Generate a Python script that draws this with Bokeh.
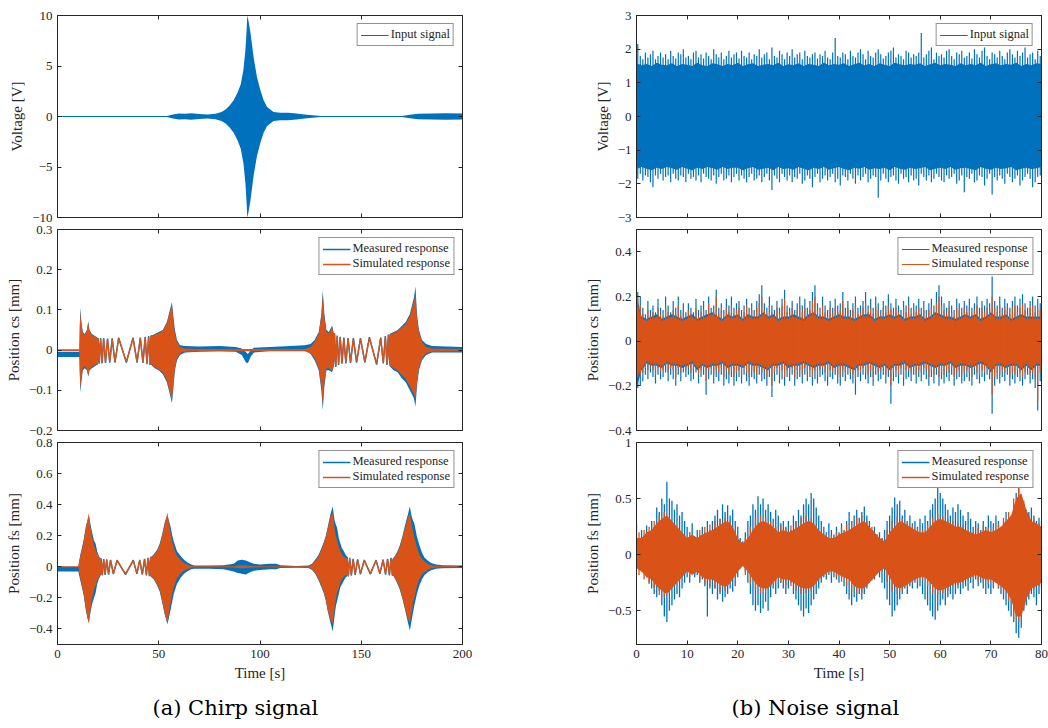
import numpy as np
from bokeh.plotting import figure
from bokeh.layouts import row, column
from bokeh.models import LinearAxis, FixedTicker, Range1d, Legend, LegendItem, Title
from bokeh.embed import file_html
from bokeh.resources import INLINE

BLUE = "#0072BD"
ORANGE = "#D95319"
INK = "#262626"
SERIF = "Liberation Serif"
CAPTION_FONT = "DejaVu Serif"

# ---------------------------------------------------------------- chirp test
# input voltage envelope (symmetric about zero)
chirp_in_t = [0, 54, 57, 60, 63, 66, 70, 74, 78, 81,
              83, 85, 87, 89, 90.5, 91.8, 92.8, 93.4, 93.7, 94.2,
              95.3, 96.9, 98.5, 100.2, 101.8, 103.5, 106.7, 110, 114, 118,
              122, 126, 130, 170, 174, 178, 185, 192, 200]
chirp_in_amp = [0.04, 0.06, 0.2, 0.3, 0.28, 0.33, 0.25, 0.2, 0.28, 0.45,
                0.7, 1.1, 1.6, 2.4, 3.2, 4.6, 6.6, 8.6, 10.0, 9.6,
                8.3, 5.8, 3.9, 2.6, 1.6, 0.93, 0.45, 0.38, 0.36, 0.3,
                0.2, 0.12, 0.05, 0.05, 0.18, 0.28, 0.3, 0.32, 0.3]

# position cs: envelope of the dense parts
cs_t = [0, 10.8, 11.0, 11.3, 11.8, 12.5, 13.5, 14.5, 15.2, 15.8,
        17.0, 18.5, 20.0, 21.5, 45.0, 46.0, 48.0, 50.0, 52.0, 54.0,
        55.5, 56.5, 57.3, 58.0, 59.0, 60.5, 63.0, 70.0, 80.0, 88.0,
        91.0, 93.0, 94.0, 95.5, 97.0, 105.0, 115.0, 122.0, 125.0, 127.0,
        129.0, 130.3, 131.0, 131.8, 132.8, 134.0, 135.6, 136.5, 137.5, 163.0,
        164.0, 166.0, 168.0, 170.0, 172.0, 174.0, 176.0, 176.8, 177.5, 178.5,
        180.0, 182.0, 185.0, 200.0]
cs_meas_hi = [-0.004, -0.004, 0.06, 0.106, 0.07, 0.045, 0.04, 0.05, 0.072, 0.05,
              0.04, 0.035, 0.03, 0.0, 0.0, 0.035, 0.04, 0.045, 0.05, 0.07,
              0.1, 0.119, 0.08, 0.05, 0.025, 0.012, 0.01, 0.009, 0.01, 0.008,
              0.004, -0.005, -0.01, 0.0, 0.006, 0.008, 0.01, 0.012, 0.015, 0.025,
              0.045, 0.09, 0.148, 0.09, 0.05, 0.045, 0.061, 0.04, 0.0, 0.0,
              0.04, 0.045, 0.05, 0.06, 0.07, 0.09, 0.13, 0.158, 0.09, 0.05,
              0.025, 0.015, 0.01, 0.008]
cs_meas_lo = [-0.017, -0.017, -0.06, -0.106, -0.08, -0.05, -0.045, -0.05, -0.066, -0.05,
              -0.045, -0.04, -0.035, 0.0, 0.0, -0.035, -0.045, -0.05, -0.06, -0.08,
              -0.11, -0.132, -0.09, -0.05, -0.025, -0.012, -0.006, -0.004, -0.003, -0.004,
              -0.012, -0.03, -0.033, -0.015, -0.006, -0.002, 0.0, 0.0, -0.01, -0.025,
              -0.05, -0.1, -0.149, -0.09, -0.05, -0.05, -0.055, -0.04, 0.0, 0.0,
              -0.04, -0.05, -0.055, -0.07, -0.08, -0.1, -0.12, -0.14, -0.09, -0.05,
              -0.025, -0.012, -0.006, -0.006]
cs_sim_hi = [0.002, 0.002, 0.05, 0.095, 0.065, 0.042, 0.038, 0.048, 0.068, 0.048,
             0.038, 0.033, 0.028, 0.0, 0.0, 0.033, 0.038, 0.042, 0.048, 0.066,
             0.095, 0.115, 0.07, 0.04, 0.02, 0.008, 0.004, 0.003, 0.003, 0.003,
             0.003, 0.003, 0.003, 0.003, 0.003, 0.003, 0.003, 0.003, 0.008, 0.02,
             0.04, 0.085, 0.136, 0.08, 0.045, 0.042, 0.058, 0.038, 0.0, 0.0,
             0.038, 0.042, 0.048, 0.056, 0.065, 0.085, 0.12, 0.14, 0.08, 0.045,
             0.02, 0.008, 0.004, 0.003]
cs_sim_lo = [-0.002, -0.002, -0.05, -0.095, -0.07, -0.045, -0.04, -0.048, -0.063, -0.048,
             -0.042, -0.038, -0.033, 0.0, 0.0, -0.033, -0.042, -0.048, -0.056, -0.075,
             -0.105, -0.125, -0.08, -0.045, -0.02, -0.008, -0.004, -0.003, -0.003, -0.003,
             -0.003, -0.003, -0.003, -0.003, -0.003, -0.003, -0.003, -0.003, -0.008, -0.02,
             -0.045, -0.09, -0.134, -0.08, -0.045, -0.045, -0.052, -0.038, 0.0, 0.0,
             -0.038, -0.045, -0.05, -0.062, -0.072, -0.09, -0.11, -0.121, -0.08, -0.045,
             -0.02, -0.008, -0.004, -0.003]

# position cs: resolved low-frequency swings (successive extremes)
cs_wave1_t = [20.0, 20.6, 21.3, 22.0, 22.8, 23.7, 24.7, 25.8, 27.0, 28.4,
              30.2, 34.0, 37.3, 39.3, 40.9, 42.2, 43.3, 44.2, 45.0, 45.7, 46.3]
cs_wave1_meas = [0.03, -0.034, 0.03, -0.033, 0.03, -0.032, 0.029, -0.031, 0.029, -0.031,
                 0.031, -0.031, 0.031, -0.031, 0.031, -0.032, 0.033, -0.035, 0.035, -0.037, 0.037]
cs_wave1_sim = [0.028, -0.032, 0.028, -0.031, 0.028, -0.03, 0.027, -0.029, 0.027, -0.029,
                0.029, -0.029, 0.029, -0.029, 0.029, -0.03, 0.031, -0.033, 0.033, -0.035, 0.035]
cs_wave2_t = [136.8, 137.4, 138.1, 138.8, 139.6, 140.5, 141.4, 142.4, 143.5, 144.7,
              146.1, 147.7, 149.6, 151.8, 154.0, 157.6, 159.6, 160.9, 161.9, 162.7, 163.4]
cs_wave2_meas = [0.042, -0.042, 0.036, -0.037, 0.033, -0.034, 0.031, -0.033, 0.03, -0.032,
                 0.03, -0.031, 0.03, -0.031, 0.032, -0.036, 0.031, -0.033, 0.035, -0.037, 0.039]
cs_wave2_sim = [0.04, -0.04, 0.034, -0.035, 0.031, -0.032, 0.029, -0.031, 0.028, -0.03,
                0.028, -0.029, 0.028, -0.029, 0.03, -0.034, 0.029, -0.031, 0.033, -0.035, 0.037]

# position fs: envelope of the dense parts
fs_t = [0, 10.3, 10.6, 11.3, 12.2, 13.0, 14.0, 14.8, 15.5, 16.2,
        17.1, 18.0, 18.8, 19.6, 20.4, 21.5, 22.5, 45.0, 45.9, 47.5,
        49.2, 50.5, 51.7, 53.0, 54.3, 55.0, 55.8, 56.7, 57.5, 59.0,
        60.8, 62.5, 64.0, 66.0, 67.5, 75.0, 82.0, 87.0, 89.0, 91.0,
        93.0, 95.0, 97.0, 100.0, 105.0, 108.0, 110.0, 118.0, 124.0, 125.7,
        127.5, 129.0, 130.3, 131.5, 132.5, 133.5, 134.8, 135.9, 136.8, 137.5,
        138.1, 139.0, 139.7, 140.5, 141.4, 142.2, 143.0, 144.0, 165.0, 165.4,
        166.6, 167.9, 169.1, 170.4, 171.7, 172.9, 174.0, 174.8, 175.5, 176.2,
        177.4, 178.7, 180.0, 181.2, 182.8, 184.5, 187.0, 190.0, 200.0]
fs_meas_hi = [0.0, 0.0, 0.03, 0.08, 0.13, 0.18, 0.26, 0.3, 0.33, 0.28,
              0.22, 0.17, 0.15, 0.1, 0.07, 0.05, 0.0, 0.0, 0.06, 0.08,
              0.11, 0.15, 0.21, 0.29, 0.33, 0.3, 0.26, 0.2, 0.16, 0.1,
              0.07, 0.045, 0.03, 0.015, 0.008, 0.008, 0.01, 0.02, 0.04, 0.045,
              0.04, 0.03, 0.02, 0.015, 0.02, 0.02, 0.01, 0.006, 0.008, 0.02,
              0.05, 0.08, 0.12, 0.16, 0.2, 0.26, 0.34, 0.388, 0.3, 0.27,
              0.25, 0.18, 0.15, 0.12, 0.1, 0.08, 0.065, 0.0, 0.0, 0.05,
              0.07, 0.1, 0.14, 0.2, 0.27, 0.33, 0.388, 0.33, 0.3, 0.28,
              0.2, 0.14, 0.09, 0.06, 0.04, 0.025, 0.015, 0.01, 0.008]
fs_meas_lo = [-0.03, -0.03, -0.05, -0.09, -0.14, -0.19, -0.28, -0.33, -0.36, -0.3,
              -0.24, -0.2, -0.17, -0.11, -0.08, -0.05, 0.0, 0.0, -0.06, -0.08,
              -0.12, -0.16, -0.23, -0.31, -0.37, -0.33, -0.28, -0.22, -0.17, -0.11,
              -0.07, -0.045, -0.03, -0.015, -0.012, -0.012, -0.015, -0.03, -0.04, -0.045,
              -0.05, -0.035, -0.025, -0.02, -0.015, -0.015, -0.008, -0.006, -0.008, -0.02,
              -0.05, -0.09, -0.13, -0.17, -0.22, -0.29, -0.36, -0.416, -0.32, -0.25,
              -0.22, -0.17, -0.13, -0.11, -0.09, -0.07, -0.06, 0.0, 0.0, -0.05,
              -0.075, -0.11, -0.15, -0.21, -0.28, -0.35, -0.41, -0.35, -0.3, -0.25,
              -0.18, -0.12, -0.08, -0.055, -0.035, -0.022, -0.012, -0.01, -0.008]
fs_sim_hi = [0.003, 0.003, 0.025, 0.07, 0.12, 0.17, 0.25, 0.3, 0.347, 0.26,
             0.19, 0.14, 0.11, 0.085, 0.065, 0.045, 0.0, 0.0, 0.055, 0.075,
             0.1, 0.14, 0.2, 0.28, 0.35, 0.28, 0.22, 0.16, 0.12, 0.07,
             0.045, 0.025, 0.015, 0.006, 0.003, 0.003, 0.003, 0.004, 0.008, 0.01,
             0.008, 0.006, 0.004, 0.003, 0.003, 0.003, 0.003, 0.003, 0.004, 0.015,
             0.04, 0.07, 0.11, 0.15, 0.19, 0.25, 0.32, 0.35, 0.25, 0.2,
             0.17, 0.13, 0.1, 0.08, 0.065, 0.055, 0.05, 0.0, 0.0, 0.045,
             0.065, 0.09, 0.13, 0.19, 0.25, 0.31, 0.35, 0.28, 0.23, 0.19,
             0.13, 0.08, 0.05, 0.035, 0.02, 0.01, 0.005, 0.003, 0.003]
fs_sim_lo = [-0.003, -0.003, -0.03, -0.08, -0.13, -0.18, -0.27, -0.33, -0.367, -0.28,
             -0.2, -0.15, -0.12, -0.09, -0.07, -0.045, 0.0, 0.0, -0.055, -0.075,
             -0.11, -0.15, -0.22, -0.3, -0.367, -0.3, -0.24, -0.17, -0.13, -0.075,
             -0.045, -0.025, -0.015, -0.006, -0.003, -0.003, -0.003, -0.004, -0.008, -0.01,
             -0.008, -0.006, -0.004, -0.003, -0.003, -0.003, -0.003, -0.003, -0.004, -0.015,
             -0.045, -0.08, -0.12, -0.16, -0.21, -0.28, -0.34, -0.367, -0.27, -0.2,
             -0.17, -0.13, -0.1, -0.08, -0.065, -0.055, -0.05, 0.0, 0.0, -0.045,
             -0.07, -0.1, -0.14, -0.2, -0.27, -0.33, -0.362, -0.3, -0.24, -0.2,
             -0.13, -0.08, -0.05, -0.035, -0.02, -0.01, -0.005, -0.003, -0.003]

# position fs: resolved low-frequency swings (successive extremes)
fs_wave1_t = [21.5, 22.1, 22.8, 23.5, 24.3, 25.2, 26.2, 27.6, 29.4, 33.6,
              37.4, 39.2, 40.6, 41.9, 43.0, 43.9, 44.7, 45.4, 46.0]
fs_wave1_meas = [0.055, -0.055, 0.05, -0.052, 0.048, -0.05, 0.045, -0.047, 0.043, -0.05,
                 0.043, -0.045, 0.045, -0.05, 0.052, -0.055, 0.058, -0.06, 0.065]
fs_wave1_sim = [0.05, -0.05, 0.046, -0.048, 0.044, -0.046, 0.041, -0.043, 0.04, -0.046,
                0.04, -0.041, 0.041, -0.046, 0.048, -0.05, 0.053, -0.055, 0.06]
fs_wave2_t = [143.0, 143.6, 144.3, 145.1, 146.0, 147.0, 148.2, 149.6, 151.5, 154.5,
              157.3, 159.2, 160.8, 162.0, 163.0, 163.9, 164.7, 165.4]
fs_wave2_meas = [0.065, -0.062, 0.058, -0.057, 0.052, -0.052, 0.048, -0.048, 0.044, -0.048,
                 0.043, -0.045, 0.047, -0.05, 0.052, -0.055, 0.058, -0.058]
fs_wave2_sim = [0.06, -0.058, 0.054, -0.053, 0.048, -0.048, 0.044, -0.044, 0.04, -0.044,
                0.04, -0.041, 0.043, -0.046, 0.048, -0.05, 0.053, -0.054]

# ---------------------------------------------------------------- noise test
noise_t = np.arange(0, 81, 1.0)           # 1 s envelope grid
noise_t_mid = np.arange(0.5, 80, 1.0)     # 1 s grid, half-step shifted
noise_t_fine = np.arange(0, 80.5, 0.5)    # 0.5 s grid
noise_t_peak = np.arange(0.25, 80, 0.5)   # 0.5 s grid of local peaks

# input voltage: solid core and local peaks
noise_in_hi = [1.58, 1.52, 1.56, 1.5, 1.6, 1.54, 1.52, 1.58, 1.5, 1.56,
               1.54, 1.5, 1.6, 1.52, 1.5, 1.58, 1.55, 1.5, 1.56, 1.52,
               1.6, 1.5, 1.55, 1.58, 1.5, 1.54, 1.56, 1.52, 1.6, 1.5,
               1.55, 1.52, 1.58, 1.5, 1.56, 1.54, 1.5, 1.6, 1.52, 1.56,
               1.54, 1.58, 1.5, 1.55, 1.6, 1.52, 1.56, 1.5, 1.58, 1.54,
               1.5, 1.6, 1.55, 1.52, 1.56, 1.54, 1.58, 1.5, 1.55, 1.6,
               1.52, 1.56, 1.54, 1.5, 1.58, 1.52, 1.56, 1.52, 1.6, 1.5,
               1.55, 1.58, 1.52, 1.56, 1.54, 1.6, 1.5, 1.56, 1.52, 1.58,
               1.56]
noise_in_lo = [-1.56, -1.5, -1.55, -1.6, -1.52, -1.56, -1.5, -1.54, -1.58, -1.5,
               -1.55, -1.6, -1.52, -1.56, -1.5, -1.54, -1.58, -1.5, -1.56, -1.52,
               -1.52, -1.6, -1.54, -1.5, -1.58, -1.55, -1.52, -1.6, -1.5, -1.56,
               -1.54, -1.58, -1.5, -1.55, -1.6, -1.52, -1.56, -1.5, -1.58, -1.54,
               -1.5, -1.56, -1.6, -1.52, -1.55, -1.5, -1.58, -1.54, -1.56, -1.52,
               -1.6, -1.5, -1.55, -1.58, -1.52, -1.56, -1.54, -1.5, -1.6, -1.55,
               -1.52, -1.56, -1.5, -1.58, -1.54, -1.52, -1.56, -1.6, -1.5, -1.55,
               -1.58, -1.52, -1.56, -1.54, -1.5, -1.6, -1.55, -1.52, -1.56, -1.54,
               -1.5]
noise_in_peak_up = [2.15, 1.8, 1.7, 1.9, 1.75, 1.85, 1.95, 1.7, 1.8, 1.9,
                    1.75, 1.85, 1.7, 1.95, 1.8, 1.72, 1.9, 1.85, 2.0, 1.75,
                    1.8, 1.7, 1.9, 1.95, 1.75, 1.85, 1.72, 1.9, 1.8, 1.7,
                    2.0, 1.85, 1.75, 1.9, 1.7, 1.8, 1.95, 1.75, 1.85, 1.9,
                    1.72, 1.95, 1.8, 1.75, 1.9, 1.7, 1.85, 1.8, 2.0, 1.75,
                    1.85, 1.9, 1.7, 2.05, 1.8, 1.75, 1.95, 1.85, 1.7, 1.9,
                    1.8, 2.0, 1.75, 1.85, 1.9, 1.7, 1.95, 1.8, 1.75, 1.85,
                    1.9, 1.72, 1.85, 1.8, 1.95, 1.75, 1.7, 1.9, 2.33, 1.8,
                    1.75, 1.9, 1.85, 1.7, 1.95, 1.8, 1.75, 1.9, 2.0, 1.85,
                    1.7, 1.95, 1.8, 1.75, 1.9, 2.0, 1.85, 1.72, 1.8, 1.9,
                    1.95, 2.05, 1.75, 1.85, 1.8, 1.7, 1.95, 1.9, 1.75, 1.85,
                    1.8, 1.9, 2.48, 1.75, 1.85, 1.95, 2.05, 1.7, 1.9, 1.8,
                    1.85, 1.75, 1.95, 2.0, 1.8, 1.7, 1.9, 1.85, 1.95, 1.75,
                    1.8, 1.9, 1.72, 2.0, 1.85, 1.75, 1.95, 2.05, 1.8, 1.7,
                    1.9, 1.85, 1.75, 1.95, 1.8, 1.7, 1.9, 2.0, 1.85, 1.75,
                    1.95, 1.8, 1.9, 2.05, 1.75, 1.85, 1.9, 1.7, 1.95, 1.8]
noise_in_peak_dn = [-1.85, -1.7, -1.9, -1.75, -1.8, -1.95, -2.1, -1.75, -1.85, -1.7,
                    -1.9, -1.8, -1.75, -1.95, -1.7, -1.85, -1.9, -1.75, -1.8, -1.95,
                    -1.7, -1.85, -1.8, -1.9, -1.75, -1.95, -1.7, -1.8, -1.85, -1.9,
                    -1.75, -2.0, -1.8, -1.7, -1.9, -1.85, -1.75, -1.95, -1.8, -1.7,
                    -1.9, -1.75, -1.85, -1.95, -1.8, -1.7, -1.9, -1.85, -1.75, -1.95,
                    -1.8, -1.7, -1.9, -2.18, -1.75, -1.85, -1.95, -1.7, -1.8, -1.9,
                    -1.75, -1.95, -1.8, -1.85, -1.7, -2.0, -1.9, -1.75, -1.85, -2.1,
                    -1.8, -1.7, -1.95, -1.85, -1.75, -1.9, -1.8, -1.7, -1.95, -1.85,
                    -2.05, -1.75, -1.8, -1.9, -1.7, -1.85, -2.0, -1.75, -1.9, -1.8,
                    -1.7, -1.95, -1.85, -1.75, -1.8, -2.41, -1.9, -1.7, -1.85, -1.95,
                    -1.8, -1.75, -1.9, -2.0, -1.7, -1.85, -1.8, -1.95, -1.75, -1.9,
                    -1.85, -2.05, -1.7, -1.8, -1.9, -1.75, -1.95, -1.85, -1.7, -1.8,
                    -1.9, -1.95, -1.75, -1.85, -1.8, -1.7, -2.0, -1.9, -1.75, -2.25,
                    -1.8, -1.85, -1.7, -1.95, -1.9, -1.75, -1.8, -2.05, -1.85, -1.7,
                    -2.32, -1.8, -1.9, -1.75, -1.85, -2.0, -1.7, -1.8, -1.95, -1.85,
                    -1.75, -2.05, -1.9, -1.8, -1.7, -1.85, -2.1, -1.95, -1.8, -1.75]

# position cs: solid core and local peaks of both responses
nz_cs_meas_hi = [0.2, 0.11, 0.1, 0.11, 0.12, 0.1, 0.11, 0.12, 0.11, 0.1,
                 0.11, 0.12, 0.1, 0.11, 0.12, 0.13, 0.11, 0.1, 0.12, 0.11,
                 0.12, 0.1, 0.12, 0.11, 0.11, 0.13, 0.11, 0.12, 0.1, 0.11,
                 0.11, 0.12, 0.11, 0.1, 0.12, 0.13, 0.11, 0.11, 0.1, 0.11,
                 0.12, 0.11, 0.11, 0.1, 0.11, 0.12, 0.12, 0.1, 0.11, 0.11,
                 0.12, 0.11, 0.12, 0.1, 0.11, 0.11, 0.12, 0.1, 0.11, 0.13,
                 0.12, 0.11, 0.11, 0.1, 0.11, 0.12, 0.11, 0.12, 0.1, 0.11,
                 0.13, 0.11, 0.11, 0.12, 0.1, 0.11, 0.12, 0.11, 0.11, 0.11,
                 0.11]
nz_cs_meas_lo = [-0.21, -0.13, -0.1, -0.11, -0.11, -0.12, -0.1, -0.11, -0.11, -0.12,
                 -0.11, -0.1, -0.13, -0.11, -0.12, -0.11, -0.11, -0.1, -0.12, -0.11,
                 -0.11, -0.12, -0.1, -0.11, -0.11, -0.12, -0.13, -0.11, -0.11, -0.1,
                 -0.12, -0.11, -0.11, -0.1, -0.11, -0.12, -0.11, -0.11, -0.1, -0.12,
                 -0.11, -0.11, -0.12, -0.13, -0.11, -0.11, -0.1, -0.11, -0.12, -0.11,
                 -0.13, -0.11, -0.11, -0.1, -0.12, -0.11, -0.11, -0.1, -0.11, -0.12,
                 -0.11, -0.11, -0.1, -0.12, -0.11, -0.11, -0.12, -0.11, -0.1, -0.11,
                 -0.14, -0.11, -0.11, -0.12, -0.11, -0.11, -0.13, -0.11, -0.13, -0.11,
                 -0.11]
nz_cs_sim_hi = [0.18, 0.1, 0.09, 0.1, 0.11, 0.09, 0.1, 0.11, 0.1, 0.09,
                0.1, 0.11, 0.09, 0.1, 0.11, 0.12, 0.1, 0.09, 0.11, 0.1,
                0.11, 0.09, 0.11, 0.1, 0.1, 0.12, 0.1, 0.11, 0.09, 0.1,
                0.1, 0.11, 0.1, 0.09, 0.11, 0.12, 0.1, 0.1, 0.09, 0.1,
                0.11, 0.1, 0.1, 0.09, 0.1, 0.11, 0.11, 0.09, 0.1, 0.1,
                0.11, 0.1, 0.11, 0.09, 0.1, 0.1, 0.11, 0.09, 0.1, 0.12,
                0.11, 0.1, 0.1, 0.09, 0.1, 0.11, 0.1, 0.11, 0.09, 0.1,
                0.12, 0.1, 0.1, 0.11, 0.09, 0.1, 0.11, 0.1, 0.1, 0.1,
                0.1]
nz_cs_sim_lo = [-0.16, -0.12, -0.09, -0.1, -0.1, -0.11, -0.09, -0.1, -0.1, -0.11,
                -0.1, -0.09, -0.12, -0.1, -0.11, -0.1, -0.1, -0.09, -0.11, -0.1,
                -0.1, -0.11, -0.09, -0.1, -0.1, -0.11, -0.12, -0.1, -0.1, -0.09,
                -0.11, -0.1, -0.1, -0.09, -0.1, -0.11, -0.1, -0.1, -0.09, -0.11,
                -0.1, -0.1, -0.11, -0.12, -0.1, -0.1, -0.09, -0.1, -0.11, -0.1,
                -0.12, -0.1, -0.1, -0.09, -0.11, -0.1, -0.1, -0.09, -0.1, -0.11,
                -0.1, -0.1, -0.09, -0.11, -0.1, -0.1, -0.11, -0.1, -0.09, -0.1,
                -0.13, -0.1, -0.1, -0.11, -0.1, -0.1, -0.12, -0.1, -0.12, -0.1,
                -0.1]
nz_cs_meas_peak_up = [0.22, 0.2, 0.15, 0.12, 0.18, 0.14, 0.16, 0.13, 0.19, 0.15,
                      0.14, 0.2, 0.16, 0.13, 0.18, 0.15, 0.2, 0.14, 0.17, 0.13,
                      0.17, 0.15, 0.13, 0.19, 0.14, 0.16, 0.18, 0.14, 0.2, 0.15,
                      0.16, 0.23, 0.15, 0.17, 0.14, 0.19, 0.16, 0.2, 0.15, 0.17,
                      0.18, 0.14, 0.16, 0.19, 0.15, 0.17, 0.14, 0.18, 0.21, 0.25,
                      0.17, 0.15, 0.2, 0.16, 0.14, 0.18, 0.15, 0.19, 0.23, 0.16,
                      0.15, 0.18, 0.14, 0.17, 0.2, 0.16, 0.19, 0.15, 0.18, 0.22,
                      0.25, 0.17, 0.15, 0.2, 0.16, 0.14, 0.18, 0.15, 0.19, 0.16,
                      0.17, 0.22, 0.15, 0.18, 0.14, 0.17, 0.2, 0.15, 0.16, 0.18,
                      0.22, 0.16, 0.19, 0.15, 0.2, 0.17, 0.14, 0.18, 0.16, 0.21,
                      0.17, 0.15, 0.19, 0.16, 0.14, 0.18, 0.16, 0.2, 0.15, 0.17,
                      0.16, 0.19, 0.15, 0.18, 0.14, 0.17, 0.19, 0.16, 0.22, 0.25,
                      0.2, 0.17, 0.15, 0.18, 0.16, 0.14, 0.19, 0.17, 0.15, 0.18,
                      0.16, 0.19, 0.15, 0.17, 0.2, 0.15, 0.18, 0.16, 0.19, 0.17,
                      0.29, 0.18, 0.16, 0.2, 0.15, 0.19, 0.17, 0.15, 0.18, 0.2,
                      0.16, 0.19, 0.21, 0.17, 0.15, 0.18, 0.2, 0.16, 0.19, 0.17]
nz_cs_meas_peak_dn = [-0.21, -0.2, -0.18, -0.15, -0.17, -0.14, -0.16, -0.19, -0.15, -0.17,
                      -0.16, -0.14, -0.18, -0.15, -0.17, -0.2, -0.15, -0.18, -0.14, -0.16,
                      -0.15, -0.18, -0.17, -0.14, -0.19, -0.16, -0.15, -0.24, -0.17, -0.15,
                      -0.19, -0.16, -0.18, -0.15, -0.2, -0.17, -0.19, -0.16, -0.2, -0.18,
                      -0.16, -0.19, -0.15, -0.18, -0.2, -0.16, -0.17, -0.19, -0.15, -0.18,
                      -0.17, -0.2, -0.16, -0.25, -0.18, -0.15, -0.19, -0.17, -0.2, -0.16,
                      -0.18, -0.15, -0.2, -0.17, -0.16, -0.19, -0.15, -0.18, -0.16, -0.2,
                      -0.17, -0.19, -0.16, -0.15, -0.18, -0.2, -0.16, -0.17, -0.15, -0.19,
                      -0.2, -0.16, -0.18, -0.15, -0.17, -0.19, -0.24, -0.16, -0.18, -0.15,
                      -0.17, -0.19, -0.16, -0.2, -0.15, -0.18, -0.17, -0.15, -0.19, -0.16,
                      -0.28, -0.18, -0.16, -0.19, -0.15, -0.2, -0.17, -0.16, -0.18, -0.15,
                      -0.19, -0.16, -0.18, -0.15, -0.17, -0.2, -0.16, -0.19, -0.15, -0.2,
                      -0.17, -0.19, -0.16, -0.18, -0.15, -0.2, -0.17, -0.16, -0.19, -0.18,
                      -0.16, -0.18, -0.2, -0.15, -0.17, -0.19, -0.16, -0.18, -0.15, -0.17,
                      -0.325, -0.2, -0.17, -0.19, -0.16, -0.18, -0.15, -0.2, -0.17, -0.19,
                      -0.16, -0.18, -0.2, -0.17, -0.15, -0.19, -0.17, -0.21, -0.31, -0.18]
nz_cs_sim_peak_up = [0.19, 0.16, 0.12, 0.1, 0.14, 0.11, 0.13, 0.1, 0.15, 0.12,
                     0.11, 0.15, 0.13, 0.1, 0.14, 0.12, 0.16, 0.11, 0.13, 0.1,
                     0.14, 0.12, 0.1, 0.15, 0.11, 0.13, 0.14, 0.11, 0.17, 0.12,
                     0.13, 0.2, 0.12, 0.14, 0.11, 0.15, 0.13, 0.16, 0.12, 0.14,
                     0.15, 0.11, 0.13, 0.16, 0.12, 0.14, 0.11, 0.15, 0.17, 0.2,
                     0.14, 0.12, 0.16, 0.13, 0.11, 0.15, 0.12, 0.16, 0.19, 0.13,
                     0.12, 0.15, 0.11, 0.14, 0.16, 0.13, 0.15, 0.12, 0.14, 0.18,
                     0.2, 0.14, 0.12, 0.16, 0.13, 0.11, 0.15, 0.12, 0.15, 0.13,
                     0.14, 0.18, 0.12, 0.15, 0.11, 0.14, 0.16, 0.12, 0.13, 0.15,
                     0.17, 0.13, 0.15, 0.12, 0.16, 0.14, 0.11, 0.15, 0.13, 0.16,
                     0.14, 0.12, 0.15, 0.13, 0.11, 0.15, 0.13, 0.16, 0.12, 0.14,
                     0.13, 0.15, 0.12, 0.14, 0.11, 0.14, 0.15, 0.13, 0.17, 0.2,
                     0.16, 0.14, 0.12, 0.15, 0.13, 0.11, 0.15, 0.14, 0.12, 0.15,
                     0.13, 0.15, 0.12, 0.14, 0.16, 0.12, 0.15, 0.13, 0.15, 0.14,
                     0.2, 0.15, 0.13, 0.16, 0.12, 0.15, 0.14, 0.12, 0.15, 0.16,
                     0.13, 0.15, 0.17, 0.14, 0.12, 0.15, 0.16, 0.13, 0.15, 0.14]
nz_cs_sim_peak_dn = [-0.16, -0.15, -0.14, -0.12, -0.13, -0.11, -0.13, -0.15, -0.12, -0.14,
                     -0.13, -0.11, -0.14, -0.12, -0.13, -0.16, -0.12, -0.14, -0.11, -0.13,
                     -0.12, -0.14, -0.13, -0.11, -0.15, -0.13, -0.12, -0.18, -0.13, -0.12,
                     -0.15, -0.13, -0.14, -0.12, -0.16, -0.13, -0.15, -0.13, -0.16, -0.14,
                     -0.13, -0.15, -0.12, -0.14, -0.16, -0.13, -0.14, -0.15, -0.12, -0.14,
                     -0.13, -0.16, -0.13, -0.2, -0.14, -0.12, -0.15, -0.13, -0.16, -0.13,
                     -0.14, -0.12, -0.16, -0.13, -0.13, -0.15, -0.12, -0.14, -0.13, -0.16,
                     -0.13, -0.15, -0.13, -0.12, -0.14, -0.16, -0.13, -0.14, -0.12, -0.15,
                     -0.16, -0.13, -0.14, -0.12, -0.14, -0.15, -0.17, -0.13, -0.14, -0.12,
                     -0.14, -0.15, -0.13, -0.16, -0.12, -0.14, -0.13, -0.12, -0.15, -0.13,
                     -0.2, -0.14, -0.13, -0.15, -0.12, -0.16, -0.13, -0.13, -0.14, -0.12,
                     -0.15, -0.13, -0.14, -0.12, -0.13, -0.16, -0.13, -0.15, -0.12, -0.16,
                     -0.14, -0.15, -0.13, -0.14, -0.12, -0.16, -0.14, -0.13, -0.15, -0.14,
                     -0.13, -0.14, -0.16, -0.12, -0.14, -0.15, -0.13, -0.14, -0.12, -0.14,
                     -0.24, -0.16, -0.14, -0.15, -0.13, -0.14, -0.12, -0.16, -0.14, -0.15,
                     -0.13, -0.14, -0.16, -0.14, -0.12, -0.15, -0.14, -0.17, -0.27, -0.14]

# position fs: measured swing extents (0.5 s), simulated core and swing extents
nz_fs_meas_hi = [0.28, 0.12, 0.22, 0.15, 0.26, 0.2, 0.3, 0.25, 0.42, 0.38,
                 0.5, 0.45, 0.65, 0.5, 0.48, 0.4, 0.45, 0.35, 0.38, 0.3,
                 0.25, 0.2, 0.28, 0.15, 0.22, 0.18, 0.25, 0.2, 0.3, 0.22,
                 0.3, 0.35, 0.4, 0.32, 0.45, 0.38, 0.44, 0.35, 0.4, 0.3,
                 0.25, 0.15, 0.12, 0.2, 0.3, 0.35, 0.45, 0.4, 0.52, 0.45,
                 0.5, 0.4, 0.45, 0.38, 0.32, 0.4, 0.35, 0.28, 0.3, 0.25,
                 0.3, 0.22, 0.35, 0.3, 0.4, 0.35, 0.45, 0.5, 0.45, 0.55,
                 0.5, 0.42, 0.35, 0.3, 0.25, 0.2, 0.28, 0.22, 0.18, 0.25,
                 0.2, 0.28, 0.22, 0.3, 0.38, 0.3, 0.35, 0.4, 0.33, 0.38,
                 0.43, 0.35, 0.3, 0.22, 0.25, 0.18, 0.2, 0.15, 0.22, 0.3,
                 0.35, 0.42, 0.51, 0.45, 0.48, 0.35, 0.4, 0.3, 0.35, 0.28,
                 0.3, 0.25, 0.32, 0.28, 0.35, 0.3, 0.4, 0.45, 0.5, 0.64,
                 0.55, 0.5, 0.45, 0.4, 0.35, 0.42, 0.38, 0.45, 0.4, 0.35,
                 0.3, 0.38, 0.32, 0.25, 0.3, 0.28, 0.22, 0.3, 0.25, 0.35,
                 0.3, 0.28, 0.35, 0.3, 0.25, 0.3, 0.38, 0.3, 0.35, 0.45,
                 0.55, 0.63, 0.5, 0.45, 0.4, 0.38, 0.42, 0.35, 0.3, 0.33,
                 0.3]
nz_fs_meas_lo = [-0.12, -0.05, -0.15, -0.08, -0.2, -0.25, -0.3, -0.35, -0.38, -0.32,
                 -0.45, -0.55, -0.6, -0.5, -0.45, -0.4, -0.35, -0.38, -0.3, -0.25,
                 -0.2, -0.25, -0.15, -0.2, -0.18, -0.25, -0.22, -0.28, -0.55, -0.3,
                 -0.35, -0.3, -0.4, -0.35, -0.42, -0.38, -0.35, -0.3, -0.33, -0.28,
                 -0.2, -0.12, -0.1, -0.15, -0.25, -0.35, -0.45, -0.5, -0.45, -0.52,
                 -0.48, -0.42, -0.5, -0.38, -0.3, -0.35, -0.3, -0.25, -0.3, -0.35,
                 -0.3, -0.25, -0.35, -0.4, -0.45, -0.5, -0.55, -0.48, -0.52, -0.45,
                 -0.4, -0.35, -0.3, -0.25, -0.2, -0.22, -0.18, -0.25, -0.2, -0.22,
                 -0.25, -0.2, -0.28, -0.35, -0.4, -0.45, -0.38, -0.42, -0.35, -0.4,
                 -0.35, -0.3, -0.25, -0.2, -0.22, -0.15, -0.2, -0.25, -0.3, -0.4,
                 -0.45, -0.55, -0.5, -0.45, -0.4, -0.35, -0.3, -0.35, -0.28, -0.3,
                 -0.25, -0.3, -0.28, -0.35, -0.4, -0.45, -0.5, -0.55, -0.58, -0.5,
                 -0.45, -0.4, -0.45, -0.38, -0.35, -0.4, -0.35, -0.3, -0.35, -0.3,
                 -0.28, -0.32, -0.25, -0.3, -0.22, -0.28, -0.25, -0.3, -0.35, -0.3,
                 -0.35, -0.3, -0.25, -0.3, -0.35, -0.4, -0.45, -0.5, -0.55, -0.6,
                 -0.7, -0.74, -0.65, -0.5, -0.45, -0.4, -0.35, -0.38, -0.45, -0.35,
                 -0.3]
nz_fs_sim_hi = [0.15, 0.15, 0.2, 0.22, 0.28, 0.32, 0.35, 0.3, 0.25, 0.2,
                0.15, 0.18, 0.15, 0.18, 0.2, 0.22, 0.25, 0.28, 0.3, 0.25,
                0.15, 0.1, 0.15, 0.22, 0.28, 0.3, 0.28, 0.25, 0.2, 0.22,
                0.2, 0.22, 0.25, 0.28, 0.3, 0.28, 0.22, 0.18, 0.15, 0.15,
                0.18, 0.2, 0.22, 0.25, 0.28, 0.3, 0.25, 0.2, 0.15, 0.12,
                0.2, 0.25, 0.3, 0.28, 0.25, 0.22, 0.2, 0.2, 0.25, 0.3,
                0.32, 0.3, 0.28, 0.25, 0.25, 0.22, 0.2, 0.18, 0.2, 0.22,
                0.2, 0.22, 0.25, 0.3, 0.35, 0.5, 0.55, 0.4, 0.3, 0.28,
                0.25]
nz_fs_sim_lo = [-0.12, -0.15, -0.2, -0.22, -0.28, -0.32, -0.35, -0.3, -0.25, -0.2,
                -0.15, -0.18, -0.15, -0.2, -0.22, -0.22, -0.25, -0.28, -0.28, -0.22,
                -0.15, -0.1, -0.15, -0.22, -0.28, -0.3, -0.3, -0.25, -0.2, -0.22,
                -0.22, -0.25, -0.28, -0.3, -0.3, -0.28, -0.22, -0.18, -0.15, -0.15,
                -0.18, -0.2, -0.22, -0.28, -0.3, -0.3, -0.25, -0.2, -0.15, -0.12,
                -0.2, -0.28, -0.3, -0.28, -0.25, -0.22, -0.2, -0.2, -0.25, -0.3,
                -0.32, -0.3, -0.28, -0.25, -0.25, -0.22, -0.2, -0.18, -0.2, -0.22,
                -0.22, -0.25, -0.28, -0.32, -0.4, -0.55, -0.55, -0.4, -0.3, -0.28,
                -0.25]
nz_fs_sim_peak_up = [0.2, 0.22, 0.25, 0.3, 0.35, 0.38, 0.33, 0.28, 0.22, 0.18,
                     0.2, 0.16, 0.22, 0.25, 0.27, 0.3, 0.32, 0.33, 0.3, 0.2,
                     0.12, 0.15, 0.25, 0.32, 0.35, 0.33, 0.3, 0.25, 0.26, 0.24,
                     0.26, 0.3, 0.33, 0.35, 0.32, 0.26, 0.2, 0.18, 0.17, 0.2,
                     0.24, 0.27, 0.3, 0.33, 0.35, 0.3, 0.25, 0.18, 0.15, 0.22,
                     0.3, 0.34, 0.32, 0.3, 0.26, 0.24, 0.22, 0.27, 0.33, 0.36,
                     0.34, 0.32, 0.3, 0.28, 0.26, 0.22, 0.2, 0.24, 0.26, 0.24,
                     0.25, 0.28, 0.33, 0.38, 0.5, 0.6, 0.48, 0.35, 0.32, 0.28]
nz_fs_sim_peak_dn = [-0.18, -0.22, -0.26, -0.3, -0.36, -0.38, -0.34, -0.28, -0.23, -0.17,
                     -0.2, -0.17, -0.23, -0.26, -0.28, -0.3, -0.33, -0.32, -0.26, -0.18,
                     -0.12, -0.18, -0.26, -0.32, -0.35, -0.34, -0.28, -0.24, -0.25, -0.27,
                     -0.28, -0.32, -0.35, -0.34, -0.32, -0.25, -0.2, -0.18, -0.17, -0.2,
                     -0.24, -0.28, -0.32, -0.35, -0.34, -0.28, -0.23, -0.17, -0.15, -0.24,
                     -0.33, -0.35, -0.32, -0.28, -0.25, -0.24, -0.23, -0.28, -0.34, -0.36,
                     -0.34, -0.32, -0.28, -0.27, -0.25, -0.22, -0.2, -0.24, -0.25, -0.26,
                     -0.28, -0.3, -0.35, -0.42, -0.58, -0.6, -0.48, -0.35, -0.3, -0.28]

# axis ticks
chirp_x_ticks = [0, 50, 100, 150, 200]
noise_x_ticks = [0, 10, 20, 30, 40, 50, 60, 70, 80]
volt_chirp_ticks = [-10, -5, 0, 5, 10]
volt_noise_ticks = [-3, -2, -1, 0, 1, 2, 3]
cs_chirp_ticks = [-0.2, -0.1, 0, 0.1, 0.2, 0.3]
cs_noise_ticks = [-0.4, -0.2, 0, 0.2, 0.4]
fs_chirp_ticks = [-0.4, -0.2, 0, 0.2, 0.4, 0.6, 0.8]
fs_noise_ticks = [-0.5, 0, 0.5, 1]


def style_axis(ax, ticks, show_labels):
    ax.ticker = FixedTicker(ticks=ticks, minor_ticks=[])
    ax.major_tick_in = 4
    ax.major_tick_out = 0
    ax.minor_tick_line_color = None
    ax.axis_line_color = INK
    ax.major_tick_line_color = INK
    ax.axis_line_width = 1
    if show_labels:
        ax.major_label_text_font = SERIF
        ax.major_label_text_font_size = "13px"
        ax.major_label_text_color = INK
        ax.major_label_standoff = 5
    else:
        # tick marks only: labels are not drawn at all
        ax.major_label_text_color = None
        ax.major_label_text_font_size = "1px"
        ax.major_label_standoff = 0


def make_panel(col, rw, x_max, x_ticks, y_min, y_max, y_ticks, y_label):
    p = figure(
        frame_width=405,
        frame_height=201 if rw == 1 else 202,
        x_range=Range1d(0, x_max), y_range=Range1d(y_min, y_max),
        output_backend="svg", toolbar_location=None,
        min_border_left=57 if col == 0 else 144,
        min_border_right=30 if col == 0 else 7,
        min_border_top=15 if rw == 0 else 6,
        min_border_bottom=84 if rw == 2 else 6,
        background_fill_color="white", border_fill_color="white",
    )
    p.xgrid.visible = False
    p.ygrid.visible = False
    p.outline_line_color = INK
    style_axis(p.xaxis[0], x_ticks, rw == 2)
    style_axis(p.yaxis[0], y_ticks, True)
    p.yaxis[0].axis_label = y_label
    p.yaxis[0].axis_label_text_font = SERIF
    p.yaxis[0].axis_label_text_font_size = "15px"
    p.yaxis[0].axis_label_text_font_style = "normal"
    p.yaxis[0].axis_label_text_color = INK
    p.yaxis[0].axis_label_standoff = 4
    if rw == 2:
        p.xaxis[0].axis_label = "Time [s]"
        p.xaxis[0].axis_label_text_font = SERIF
        p.xaxis[0].axis_label_text_font_size = "15px"
        p.xaxis[0].axis_label_text_font_style = "normal"
        p.xaxis[0].axis_label_text_color = INK
        p.xaxis[0].axis_label_standoff = 4
    top_ax = LinearAxis()
    style_axis(top_ax, x_ticks, False)
    p.add_layout(top_ax, "above")
    right_ax = LinearAxis()
    style_axis(right_ax, y_ticks, False)
    p.add_layout(right_ax, "right")
    return p


def add_legend(p, entries):
    legend = Legend(
        items=[LegendItem(label=lab, renderers=[r]) for lab, r in entries],
        location="top_right", margin=8, padding=3, spacing=0,
        border_line_color=INK, border_line_width=1,
        background_fill_color="white", background_fill_alpha=1.0,
        label_text_font=SERIF, label_text_font_size="12.5px", label_text_color=INK,
        glyph_width=28, glyph_height=14, label_height=14, label_standoff=2,
    )
    p.add_layout(legend)


def add_caption(p, text):
    p.add_layout(Title(text=text, align="left", offset=95, standoff=21,
                       text_font=CAPTION_FONT, text_font_size="21px",
                       text_font_style="normal", text_color="black"), "below")


def zeros(seq):
    return [0.0] * len(seq)


# ---------------------------------------------------------------- chirp column
p11 = make_panel(0, 0, 200, chirp_x_ticks, -10, 10, volt_chirp_ticks, "Voltage [V]")
p11.varea(x=chirp_in_t, y1=[-a for a in chirp_in_amp], y2=chirp_in_amp, color=BLUE)
r_in = p11.line(x=chirp_in_t, y=zeros(chirp_in_t), color=BLUE, line_width=1)
add_legend(p11, [("Input signal", r_in)])

p21 = make_panel(0, 1, 200, chirp_x_ticks, -0.2, 0.3, cs_chirp_ticks, "Position cs [mm]")
p21.varea(x=cs_t, y1=cs_meas_lo, y2=cs_meas_hi, color=BLUE)
r_cs_m = p21.line(x=cs_wave1_t, y=cs_wave1_meas, color=BLUE, line_width=1.4)
p21.line(x=cs_wave2_t, y=cs_wave2_meas, color=BLUE, line_width=1.4)
p21.varea(x=cs_t, y1=cs_sim_lo, y2=cs_sim_hi, color=ORANGE)
r_cs_s = p21.line(x=cs_wave1_t, y=cs_wave1_sim, color=ORANGE, line_width=1.4)
p21.line(x=cs_wave2_t, y=cs_wave2_sim, color=ORANGE, line_width=1.4)
add_legend(p21, [("Measured response", r_cs_m), ("Simulated response", r_cs_s)])

p31 = make_panel(0, 2, 200, chirp_x_ticks, -0.5, 0.8, fs_chirp_ticks, "Position fs [mm]")
p31.varea(x=fs_t, y1=fs_meas_lo, y2=fs_meas_hi, color=BLUE)
r_fs_m = p31.line(x=fs_wave1_t, y=fs_wave1_meas, color=BLUE, line_width=1.4)
p31.line(x=fs_wave2_t, y=fs_wave2_meas, color=BLUE, line_width=1.4)
p31.varea(x=fs_t, y1=fs_sim_lo, y2=fs_sim_hi, color=ORANGE)
r_fs_s = p31.line(x=fs_wave1_t, y=fs_wave1_sim, color=ORANGE, line_width=1.4)
p31.line(x=fs_wave2_t, y=fs_wave2_sim, color=ORANGE, line_width=1.4)
add_legend(p31, [("Measured response", r_fs_m), ("Simulated response", r_fs_s)])
add_caption(p31, "(a) Chirp signal")

# ---------------------------------------------------------------- noise column
p12 = make_panel(1, 0, 80, noise_x_ticks, -3, 3, volt_noise_ticks, "Voltage [V]")
p12.varea(x=noise_t, y1=noise_in_lo, y2=noise_in_hi, color=BLUE)
r_nin = p12.segment(x0=noise_t_peak, y0=noise_in_peak_dn, x1=noise_t_peak, y1=noise_in_peak_up,
                    color=BLUE, line_width=1.2)
add_legend(p12, [("Input signal", r_nin)])

p22 = make_panel(1, 1, 80, noise_x_ticks, -0.4, 0.5, cs_noise_ticks, "Position cs [mm]")
p22.varea(x=noise_t, y1=nz_cs_meas_lo, y2=nz_cs_meas_hi, color=BLUE)
r_ncs_m = p22.segment(x0=noise_t_peak, y0=nz_cs_meas_peak_dn, x1=noise_t_peak, y1=nz_cs_meas_peak_up,
                      color=BLUE, line_width=1.2)
p22.varea(x=noise_t, y1=nz_cs_sim_lo, y2=nz_cs_sim_hi, color=ORANGE)
r_ncs_s = p22.segment(x0=noise_t_peak, y0=nz_cs_sim_peak_dn, x1=noise_t_peak, y1=nz_cs_sim_peak_up,
                      color=ORANGE, line_width=1.2)
add_legend(p22, [("Measured response", r_ncs_m), ("Simulated response", r_ncs_s)])

p32 = make_panel(1, 2, 80, noise_x_ticks, -0.8, 1, fs_noise_ticks, "Position fs [mm]")
r_nfs_m = p32.segment(x0=noise_t_fine, y0=nz_fs_meas_lo, x1=noise_t_fine, y1=nz_fs_meas_hi,
                      color=BLUE, line_width=1.3)
p32.varea(x=noise_t, y1=nz_fs_sim_lo, y2=nz_fs_sim_hi, color=ORANGE)
r_nfs_s = p32.segment(x0=noise_t_mid, y0=nz_fs_sim_peak_dn, x1=noise_t_mid, y1=nz_fs_sim_peak_up,
                      color=ORANGE, line_width=1.3)
add_legend(p32, [("Measured response", r_nfs_m), ("Simulated response", r_nfs_s)])
add_caption(p32, "(b) Noise signal")

layout = column(row(p11, p12), row(p21, p22), row(p31, p32))

open("out.html", "w").write(file_html(layout, INLINE))
